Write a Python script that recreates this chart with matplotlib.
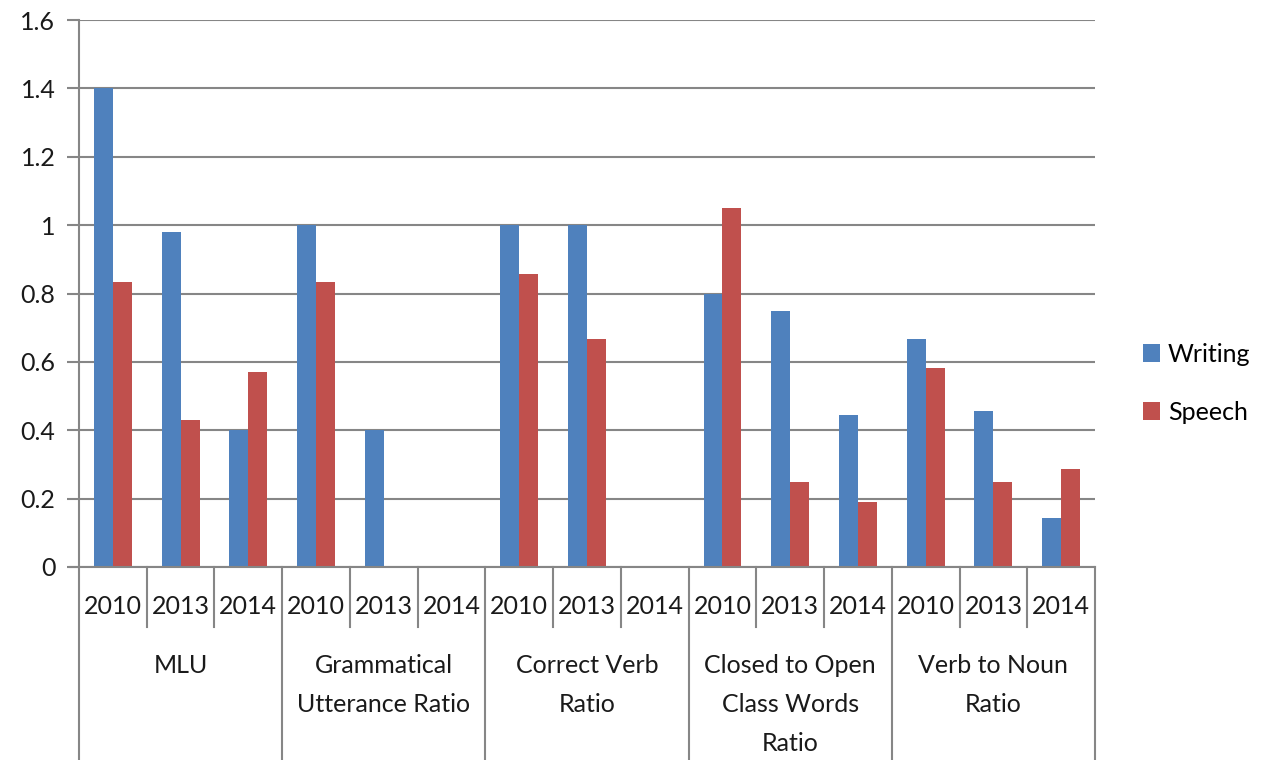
import numpy as np
import matplotlib
matplotlib.use('Agg')
from matplotlib import pyplot as plt
import matplotlib.transforms as mtransforms

plt.rcParams['font.family'] = ['Lato', 'DejaVu Sans']

groups = ['MLU', 'Grammatical\nUtterance Ratio', 'Correct Verb\nRatio',
          'Closed to Open\nClass Words\nRatio', 'Verb to Noun\nRatio']
years = ['2010', '2013', '2014']
writing = [1.4, 0.98, 0.40, 1.0, 0.40, 0.0, 1.0, 1.0, 0.0,
           0.80, 0.75, 0.444, 0.667, 0.457, 0.143]
speech = [0.833, 0.43, 0.57, 0.833, 0.0, 0.0, 0.857, 0.667, 0.0,
          1.05, 0.25, 0.19, 0.583, 0.25, 0.286]

blue = '#4F81BD'
red = '#C0504D'
grey = '#868686'
txt = '#1a1a1a'
fs = 18

fig = plt.figure(figsize=(12.79, 7.60), dpi=100)
ax = fig.add_axes([79 / 1279, 193 / 760, (1095 - 79) / 1279, 547 / 760])

n = len(writing)
x = np.arange(n)
w = 0.28
ax.bar(x - w / 2, writing, w, color=blue, label='Writing', zorder=3)
ax.bar(x + w / 2, speech, w, color=red, label='Speech', zorder=3)

ax.set_xlim(-0.5, n - 0.5)
ax.set_ylim(0, 1.6)
yt = np.arange(0, 1.61, 0.2)
ax.set_yticks(yt)
ax.set_yticklabels(['0', '0.2', '0.4', '0.6', '0.8', '1', '1.2', '1.4', '1.6'])
ax.tick_params(axis='y', length=9, width=1.5, color=grey, labelsize=fs,
               labelcolor=txt, pad=8)
ax.grid(axis='y', color=grey, linewidth=1.5, zorder=0)
ax.set_xticks([])

for s in ['top', 'right']:
    ax.spines[s].set_visible(False)
ax.spines['left'].set_color(grey)
ax.spines['left'].set_linewidth(1.5)
ax.spines['bottom'].set_visible(False)

# bottom axis line, extended slightly left like the y ticks
trans = mtransforms.blended_transform_factory(ax.transData, ax.transAxes)
ax.plot([-0.5 - 9 / 67.7, n - 0.5], [0, 0], color=grey, lw=1.5,
        transform=trans, clip_on=False, zorder=4)

# category dividers
small_y = -60 / 547
big_y = -193 / 547
for i in range(n + 1):
    bx = i - 0.5
    y_end = big_y if i % 3 == 0 else small_y
    ax.plot([bx, bx], [0, y_end], color=grey, lw=1.5, transform=trans,
            clip_on=False)

for i in range(n):
    ax.text(i, -40 / 547, years[i % 3], transform=trans, ha='center',
            va='center', fontsize=fs, color=txt)

for g, label in enumerate(groups):
    ax.text(3 * g + 1, -87 / 547, label, transform=trans, ha='center',
            va='top', fontsize=fs, color=txt, linespacing=1.85)

ax.legend(loc='center left', bbox_to_anchor=(1.025, 0.336), frameon=False,
          fontsize=fs, handlelength=0.7, handleheight=0.7,
          handletextpad=0.3, labelspacing=1.4)

plt.savefig('out.png', dpi=100)
